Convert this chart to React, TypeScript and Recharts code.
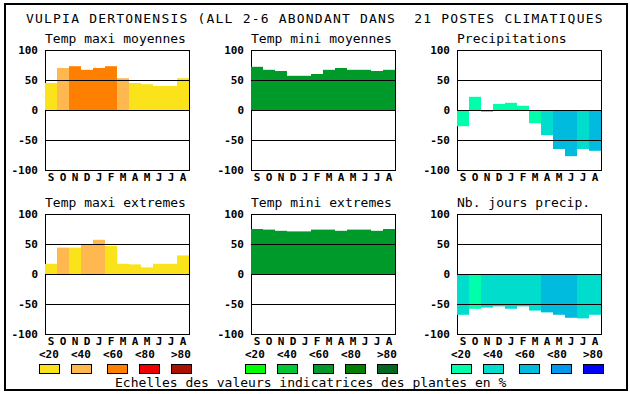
import React from "react";
import {
	BarChart,
	Bar,
	Cell,
	XAxis,
	YAxis,
	ReferenceLine,
	ReferenceArea,
} from "recharts";

// month labels, Sept -> Aug
const months = ["S", "O", "N", "D", "J", "F", "M", "A", "M", "J", "J", "A"];
const yTicks = [-100, -50, 0, 50, 100];
const scaleLabels = ["<20", "<40", "<60", "<80", ">80"];

// palettes (one colour per scale class)
const warmColors = ["#FAE31A", "#FFB850", "#FF8000", "#EE0000", "#AA1100"];
const greenColors = ["#00FF00", "#00C837", "#009A2A", "#008000", "#006820"];
const blueColors = ["#00FFAA", "#00DDCC", "#00BBDD", "#0099EE", "#0000FF"];

// values per panel + class index (colour) per bar
const maxiMoy = [45, 70, 73, 67, 70, 73, 53, 45, 43, 40, 40, 53];
const maxiMoyClass = [0, 1, 2, 2, 2, 2, 1, 0, 0, 0, 0, 0];

const miniMoy = [72, 67, 65, 57, 57, 60, 67, 70, 67, 67, 65, 67];
const miniMoyClass = [2, 2, 2, 2, 2, 2, 2, 2, 2, 2, 2, 2];

const precip = [-27, 22, -3, 10, 12, 7, -22, -42, -65, -77, -65, -68];
const precipClass = [0, 0, 0, 0, 0, 0, 0, 1, 2, 2, 1, 2];

const maxiExt = [17, 44, 44, 49, 57, 47, 17, 16, 11, 17, 17, 31];
const maxiExtClass = [0, 1, 0, 1, 1, 0, 0, 0, 0, 0, 0, 0];

const miniExt = [75, 74, 72, 71, 71, 74, 74, 72, 74, 74, 72, 75];
const miniExtClass = [2, 2, 2, 2, 2, 2, 2, 2, 2, 2, 2, 2];

const joursPrecip = [-68, -58, -56, -54, -58, -54, -61, -64, -68, -73, -74, -68];
const joursPrecipClass = [1, 0, 1, 1, 1, 1, 1, 2, 2, 2, 1, 1];

const mono = "'DejaVu Sans Mono', 'Liberation Mono', monospace";
const tickStyle = { fill: "#000", fontSize: 11, fontWeight: "bold", fontFamily: mono };

function Panel({ left, top, values, classes, colors }) {
	const data = values.map((v, i) => ({ i, v }));
	return (
		<div style={{ position: "absolute", left: left - 45, top: top - 5 }}>
			<BarChart
				width={194}
				height={145}
				data={data}
				margin={{ top: 5, right: 5, bottom: 0, left: 0 }}
				barCategoryGap={0}
			>
				<XAxis
					dataKey="i"
					type="category"
					interval={0}
					tickFormatter={(i) => months[i]}
					axisLine={false}
					tickLine={false}
					tickSize={0}
					tickMargin={3}
					height={20}
					tick={tickStyle}
				/>
				<YAxis
					type="number"
					domain={[-100, 100]}
					ticks={yTicks}
					interval={0}
					width={45}
					axisLine={false}
					tickLine={false}
					tickSize={0}
					tickMargin={7}
					tick={tickStyle}
				/>
				<Bar dataKey="v" isAnimationActive={false}>
					{data.map((d, i) => (
						<Cell key={i} fill={colors[classes[i]]} />
					))}
				</Bar>
				<ReferenceLine y={50} stroke="#000" shapeRendering="crispEdges" />
				<ReferenceLine y={0} stroke="#000" shapeRendering="crispEdges" />
				<ReferenceLine y={-50} stroke="#000" shapeRendering="crispEdges" />
				<ReferenceArea
					y1={-100}
					y2={100}
					fill="none"
					stroke="#000"
					shapeRendering="crispEdges"
				/>
			</BarChart>
		</div>
	);
}

const colX = [45, 251, 457];
const rowY = [50, 214];
const titles = [
	["Temp maxi moyennes", "Temp mini moyennes", "Precipitations"],
	["Temp maxi extremes", "Temp mini extremes", "Nb. jours precip."],
];
const labelOffsets = [0, 32, 64, 96, 132];
const boxOffsets = [0, 32, 68, 100, 132];
const legendStarts = [39, 245, 451];
const legendColors = [warmColors, greenColors, blueColors];

export default function App() {
	return (
		<div
			style={{
				position: "absolute",
				left: 0,
				top: 0,
				width: 630,
				height: 394,
				background: "#fff",
				overflow: "hidden",
			}}
		>
			<Panel left={colX[0]} top={rowY[0]} values={maxiMoy} classes={maxiMoyClass} colors={warmColors} />
			<Panel left={colX[1]} top={rowY[0]} values={miniMoy} classes={miniMoyClass} colors={greenColors} />
			<Panel left={colX[2]} top={rowY[0]} values={precip} classes={precipClass} colors={blueColors} />
			<Panel left={colX[0]} top={rowY[1]} values={maxiExt} classes={maxiExtClass} colors={warmColors} />
			<Panel left={colX[1]} top={rowY[1]} values={miniExt} classes={miniExtClass} colors={greenColors} />
			<Panel left={colX[2]} top={rowY[1]} values={joursPrecip} classes={joursPrecipClass} colors={blueColors} />

			<svg
				width={630}
				height={394}
				style={{ position: "absolute", left: 0, top: 0, pointerEvents: "none" }}
				fontFamily={mono}
			>
				<rect x={5} y={4} width={622} height={386} fill="none" stroke="#000" strokeWidth={2} />
				<text x={26} y={23} fontSize={13} letterSpacing={1.2} fill="#000">
					VULPIA DERTONENSIS (ALL 2-6 ABONDANT DANS{"\u00a0\u00a0"}21 POSTES CLIMATIQUES
				</text>
				{titles.map((row, r) =>
					row.map((t, c) => (
						<text key={t} x={colX[c]} y={rowY[r] - 7} fontSize={13} fill="#000">
							{t}
						</text>
					))
				)}
				{legendStarts.map((sx, g) => (
					<g key={g}>
						{scaleLabels.map((l, k) => (
							<text
								key={l}
								x={sx + labelOffsets[k]}
								y={357.5}
								fontSize={11}
								fontWeight="bold"
								fill="#000"
							>
								{l}
							</text>
						))}
						{legendColors[g].map((col, k) => (
							<rect
								key={k}
								x={sx + boxOffsets[k] + 0.5}
								y={364.5}
								width={20}
								height={9}
								fill={col}
								stroke="#000"
							/>
						))}
					</g>
				))}
				<text x={115} y={387} fontSize={13} fill="#000">
					Echelles des valeurs indicatrices des plantes en %
				</text>
			</svg>
		</div>
	);
}
